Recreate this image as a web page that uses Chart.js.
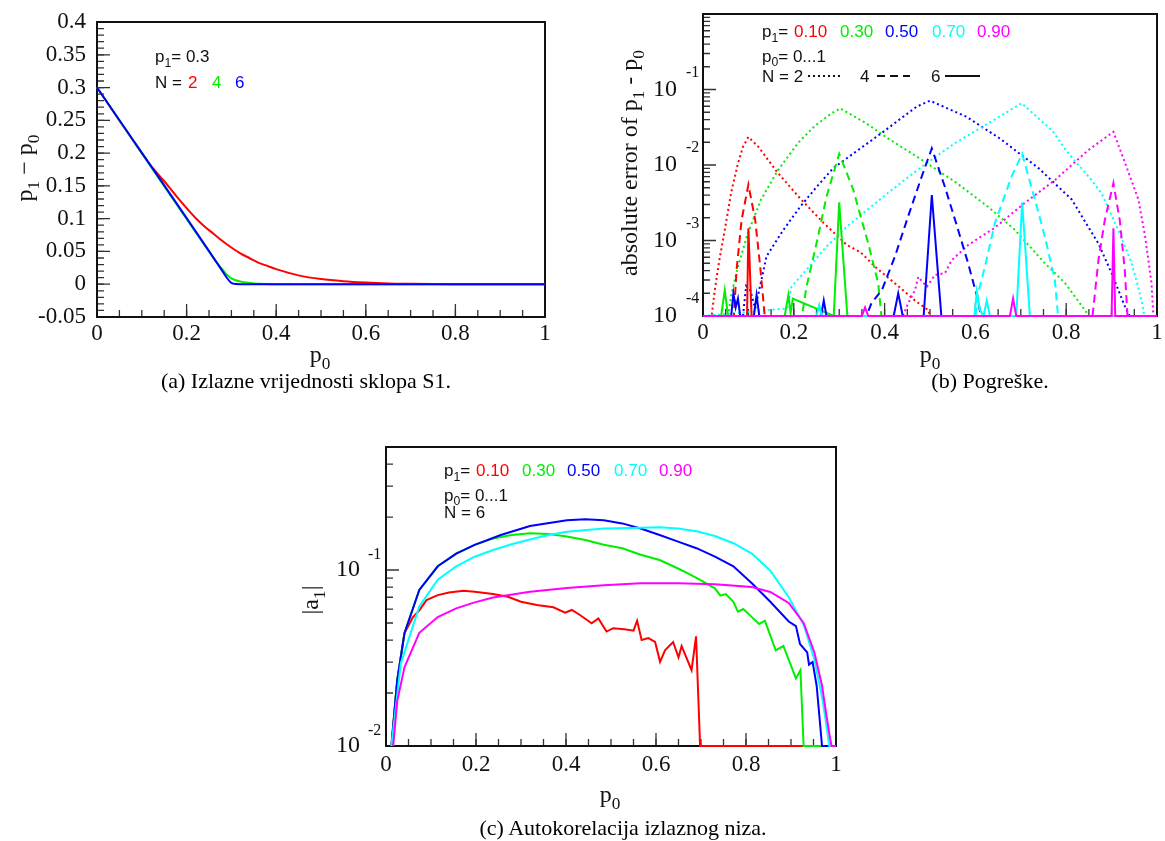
<!DOCTYPE html>
<html>
<head>
<meta charset="utf-8">
<script src="https://cdn.jsdelivr.net/npm/chart.js@4.4.1/dist/chart.umd.min.js"></script>
<style>
  html, body { margin: 0; padding: 0; background: #fff; }
  #page { position: relative; width: 1165px; height: 841px; overflow: hidden; }
  #page canvas { position: absolute; left: 0; top: 0; }
  .cap { position: absolute; font-family: "Liberation Serif", "Times New Roman", serif; font-size: 22px;
         color: #000; white-space: nowrap; transform: translate(-50%, -50%); }
</style>
</head>
<body>
<div id="page">
  <canvas id="chartA" width="1165" height="841"></canvas>
  <canvas id="chartB" width="1165" height="841"></canvas>
  <canvas id="chartC" width="1165" height="841"></canvas>
  <div class="cap" style="left:306px; top:381px">(a) Izlazne vrijednosti sklopa S1.</div>
  <div class="cap" style="left:990px; top:381px">(b) Pogreške.</div>
  <div class="cap" style="left:623px; top:828px">(c) Autokorelacija izlaznog niza.</div>
</div>
<script>
// ---- panel (a): p1 - p0 for p1 = 0.3 ----
const aX_N2 = [0, 0.1, 0.12, 0.14, 0.16, 0.18, 0.2, 0.22, 0.24, 0.26, 0.28, 0.3, 0.32, 0.34, 0.36, 0.38, 0.4, 0.45, 0.5, 0.55, 0.6, 0.65, 0.7, 0.75, 0.8, 1];
const aY_N2 = [0.3, 0.2, 0.181, 0.165, 0.149, 0.132, 0.116, 0.101, 0.088, 0.077, 0.066, 0.056, 0.047, 0.04, 0.033, 0.028, 0.023, 0.0135, 0.0078, 0.0045, 0.0025, 0.0012, 0.0006, 0.0002, 0, 0];
const aX_N4 = [0, 0.256, 0.27, 0.282, 0.29, 0.3, 0.31, 0.32, 0.334, 0.35, 0.372, 0.4, 1];
const aY_N4 = [0.3, 0.044, 0.0305, 0.021, 0.0145, 0.009, 0.006, 0.004, 0.0025, 0.0012, 0.0005, 0, 0];
const aX_N6 = [0, 0.28, 0.29, 0.3, 0.31, 0.32, 1];
const aY_N6 = [0.3, 0.02, 0.0095, 0.002, 0.0002, 0, 0];
const aXTicks = [0, 0.2, 0.4, 0.6, 0.8, 1];
const aXLabels = ['0', '0.2', '0.4', '0.6', '0.8', '1'];
const aYTicks = [-0.05, 0, 0.05, 0.1, 0.15, 0.2, 0.25, 0.3, 0.35, 0.4];
const aYLabels = ['-0.05', '0', '0.05', '0.1', '0.15', '0.2', '0.25', '0.3', '0.35', '0.4'];

// ---- panel (b): absolute error, N = 2 (dotted) ----
const bX_N2_p10 = [0, 0.019, 0.026, 0.036, 0.048, 0.062, 0.077, 0.088, 0.1, 0.122, 0.163, 0.214, 0.266, 0.317, 0.347, 0.379, 0.423, 0.467, 0.496, 0.5, 1];
const bY_N2_p10 = [1e-4, 1e-4, 2.2e-4, 5.5e-4, 1.38e-3, 4.3e-3, 0.0105, 0.0174, 0.0235, 0.0174, 8.1e-3, 3.6e-3, 1.7e-3, 8.7e-4, 7e-4, 4.5e-4, 2.7e-4, 1.6e-4, 1.2e-4, 1e-4, 1e-4];
const bX_N2_p30 = [0, 0.055, 0.063, 0.077, 0.099, 0.128, 0.165, 0.209, 0.245, 0.282, 0.302, 0.36, 0.408, 0.482, 0.555, 0.628, 0.687, 0.753, 0.797, 0.841, 0.85, 1];
const bY_N2_p30 = [1e-4, 1e-4, 2.0e-4, 4.5e-4, 1.26e-3, 3.5e-3, 8.5e-3, 0.0195, 0.0324, 0.0479, 0.0562, 0.0355, 0.0224, 0.0117, 6.0e-3, 2.8e-3, 1.38e-3, 5.0e-4, 2.75e-4, 1.2e-4, 1e-4, 1e-4];
const bX_N2_p50 = [0, 0.088, 0.095, 0.104, 0.115, 0.14, 0.177, 0.214, 0.25, 0.287, 0.324, 0.397, 0.47, 0.5, 0.58, 0.654, 0.739, 0.812, 0.871, 0.9, 0.915, 0.93, 0.94, 1];
const bY_N2_p50 = [1e-4, 1e-4, 2.5e-4, 2.2e-4, 1.26e-4, 6.2e-4, 1.38e-3, 2.8e-3, 5.1e-3, 9.1e-3, 0.0132, 0.0275, 0.0589, 0.0711, 0.0437, 0.0224, 9.1e-3, 3.5e-3, 9.1e-4, 3.7e-4, 2.2e-4, 1.3e-4, 1e-4, 1e-4];
const bX_N2_p70 = [0, 0.185, 0.195, 0.228, 0.272, 0.316, 0.408, 0.482, 0.555, 0.628, 0.702, 0.724, 0.77, 0.8, 0.856, 0.879, 0.919, 0.944, 0.958, 0.968, 0.972, 1];
const bY_N2_p70 = [1e-4, 1.26e-4, 2.45e-4, 4.1e-4, 8.3e-4, 1.51e-3, 4.3e-3, 9.5e-3, 0.0195, 0.0355, 0.066, 0.05, 0.0282, 0.0155, 6.3e-3, 4.1e-3, 1.2e-3, 5e-4, 2.5e-4, 1.4e-4, 1e-4, 1e-4];
const bX_N2_p90 = [0, 0.44, 0.452, 0.467, 0.474, 0.493, 0.511, 0.533, 0.548, 0.584, 0.643, 0.709, 0.775, 0.849, 0.904, 0.93, 0.959, 0.974, 0.988, 0.992, 1];
const bY_N2_p90 = [1e-4, 1e-4, 1.48e-4, 2.2e-4, 3.3e-4, 2.45e-4, 3.5e-4, 3.7e-4, 5.5e-4, 8.7e-4, 1.48e-3, 3.16e-3, 6.3e-3, 0.0158, 0.0275, 0.0105, 3.5e-3, 1.12e-3, 2.7e-4, 1e-4, 1e-4];
// N = 4 (dashed)
const bX_N4_p10 = [0, 0.068, 0.074, 0.085, 0.1, 0.115, 0.126, 0.136, 1];
const bY_N4_p10 = [1e-4, 1e-4, 4.1e-4, 1.86e-3, 5.5e-3, 1.86e-3, 4.5e-4, 1e-4, 1e-4];
const bX_N4_p30 = [0, 0.218, 0.228, 0.25, 0.272, 0.3, 0.331, 0.364, 0.386, 0.393, 1];
const bY_N4_p30 = [1e-4, 1e-4, 2.45e-4, 9.1e-4, 3.8e-3, 0.0141, 4.7e-3, 9.1e-4, 2.7e-4, 1e-4, 1e-4];
const bX_N4_p50 = [0, 0.36, 0.371, 0.394, 0.423, 0.452, 0.482, 0.504, 0.533, 0.562, 0.584, 0.606, 0.612, 1];
const bY_N4_p50 = [1e-4, 1e-4, 1.48e-4, 2.2e-4, 6.2e-4, 2.1e-3, 7.1e-3, 0.0166, 5.1e-3, 1.38e-3, 5e-4, 1.6e-4, 1e-4, 1e-4];
const bX_N4_p70 = [0, 0.6, 0.606, 0.621, 0.643, 0.68, 0.703, 0.731, 0.753, 0.775, 0.782, 1];
const bY_N4_p70 = [1e-4, 1e-4, 2.0e-4, 4.5e-4, 1.7e-3, 7.1e-3, 0.0141, 3.5e-3, 1.12e-3, 3.0e-4, 1e-4, 1e-4];
const bX_N4_p90 = [0, 0.858, 0.871, 0.885, 0.904, 0.918, 0.929, 0.935, 1];
const bY_N4_p90 = [1e-4, 1e-4, 5.5e-4, 1.86e-3, 5.75e-3, 1.86e-3, 4.1e-4, 1e-4, 1e-4];
// N = 6 (solid)
const bX_N6_p10 = [0, 0.097, 0.1, 0.107, 1];
const bY_N6_p10 = [1e-4, 1e-4, 1.45e-3, 1e-4, 1e-4];
const bX_N6_p30 = [0, 0.04, 0.048, 0.055, 0.18, 0.188, 0.193, 0.198, 0.288, 0.3, 0.318, 1];
const bY_N6_p30 = [1e-4, 1e-4, 2.2e-4, 1e-4, 1e-4, 1.9e-4, 1.1e-4, 1.7e-4, 1e-4, 3.2e-3, 1e-4, 1e-4];
const bX_N6_p50 = [0, 0.062, 0.067, 0.072, 0.077, 0.082, 0.112, 0.118, 0.124, 0.26, 0.266, 0.272, 0.42, 0.43, 0.44, 0.486, 0.504, 0.525, 1];
const bY_N6_p50 = [1e-4, 1e-4, 2.0e-4, 1.3e-4, 1.7e-4, 1e-4, 1e-4, 1.9e-4, 1e-4, 1e-4, 1.6e-4, 1e-4, 1e-4, 2.0e-4, 1e-4, 1e-4, 4.0e-3, 1e-4, 1e-4];
const bX_N6_p70 = [0, 0.25, 0.256, 0.262, 0.598, 0.603, 0.61, 0.618, 0.625, 0.632, 0.69, 0.703, 0.72, 1];
const bY_N6_p70 = [1e-4, 1e-4, 1.4e-4, 1e-4, 1e-4, 2.1e-4, 1.2e-4, 1.0e-4, 1.6e-4, 1e-4, 1e-4, 3.2e-3, 1e-4, 1e-4];
const bX_N6_p90 = [0, 0.35, 0.357, 0.364, 0.676, 0.683, 0.69, 0.9, 0.904, 0.908, 1];
const bY_N6_p90 = [1e-4, 1e-4, 1.3e-4, 1e-4, 1e-4, 1.7e-4, 1e-4, 1e-4, 1.45e-3, 1e-4, 1e-4];
const bYTicks = [1e-4, 1e-3, 1e-2, 1e-1];
const bYExp = ['-4', '-3', '-2', '-1'];

// ---- panel (c): |a1| for N = 6 ----
const cX_p10 = [0.012, 0.025, 0.041, 0.06, 0.074, 0.09, 0.115, 0.14, 0.172, 0.197, 0.238, 0.271, 0.3, 0.335, 0.372, 0.398, 0.413, 0.431, 0.457, 0.472, 0.49, 0.505, 0.53, 0.55, 0.558, 0.568, 0.583, 0.598, 0.609, 0.62, 0.638, 0.65, 0.657, 0.679, 0.689, 0.698, 1];
const cY_p10 = [0.01, 0.0237, 0.0437, 0.054, 0.059, 0.0675, 0.072, 0.0745, 0.0763, 0.0753, 0.073, 0.0705, 0.066, 0.0633, 0.0614, 0.0572, 0.0593, 0.0555, 0.0498, 0.0531, 0.0447, 0.0467, 0.046, 0.0452, 0.0515, 0.040, 0.041, 0.039, 0.0301, 0.035, 0.039, 0.0319, 0.037, 0.027, 0.042, 0.01, 0.01];
const cX_p30 = [0.012, 0.025, 0.041, 0.074, 0.115, 0.156, 0.197, 0.238, 0.279, 0.32, 0.361, 0.402, 0.443, 0.484, 0.525, 0.566, 0.608, 0.649, 0.673, 0.698, 0.731, 0.743, 0.755, 0.772, 0.782, 0.794, 0.813, 0.829, 0.842, 0.866, 0.883, 0.911, 0.921, 0.928, 1];
const cY_p30 = [0.01, 0.0237, 0.0437, 0.077, 0.105, 0.124, 0.139, 0.151, 0.158, 0.162, 0.16, 0.155, 0.148, 0.139, 0.133, 0.122, 0.114, 0.102, 0.095, 0.088, 0.0787, 0.0715, 0.073, 0.066, 0.058, 0.06, 0.054, 0.0493, 0.0515, 0.035, 0.037, 0.0242, 0.027, 0.01, 0.01];
const cX_p50 = [0.012, 0.025, 0.041, 0.074, 0.115, 0.156, 0.197, 0.255, 0.32, 0.402, 0.443, 0.484, 0.525, 0.566, 0.608, 0.649, 0.69, 0.731, 0.772, 0.813, 0.854, 0.895, 0.911, 0.92, 0.936, 0.94, 0.948, 0.957, 0.969, 1];
const cY_p50 = [0.01, 0.0237, 0.0437, 0.077, 0.105, 0.124, 0.139, 0.158, 0.178, 0.192, 0.194, 0.192, 0.184, 0.172, 0.158, 0.145, 0.133, 0.119, 0.105, 0.084, 0.066, 0.051, 0.048, 0.038, 0.034, 0.029, 0.030, 0.022, 0.01, 0.01];
const cX_p70 = [0.012, 0.033, 0.074, 0.115, 0.156, 0.197, 0.238, 0.279, 0.32, 0.361, 0.402, 0.484, 0.566, 0.608, 0.649, 0.69, 0.731, 0.772, 0.813, 0.854, 0.895, 0.928, 0.952, 0.969, 0.977, 0.985, 1];
const cY_p70 = [0.01, 0.0295, 0.062, 0.088, 0.105, 0.119, 0.13, 0.14, 0.149, 0.158, 0.165, 0.172, 0.174, 0.175, 0.172, 0.166, 0.156, 0.142, 0.124, 0.099, 0.07, 0.049, 0.031, 0.019, 0.014, 0.01, 0.01];
const cX_p90 = [0.016, 0.025, 0.041, 0.074, 0.115, 0.156, 0.197, 0.238, 0.32, 0.402, 0.484, 0.566, 0.649, 0.731, 0.813, 0.854, 0.895, 0.928, 0.952, 0.969, 0.977, 0.985, 0.99, 1];
const cY_p90 = [0.01, 0.018, 0.028, 0.044, 0.054, 0.0605, 0.0655, 0.0697, 0.0753, 0.079, 0.082, 0.084, 0.084, 0.083, 0.080, 0.075, 0.065, 0.050, 0.034, 0.022, 0.016, 0.0118, 0.01, 0.01];
const cYTicks = [1e-2, 1e-1];
const cYExp = ['-2', '-1'];

const p1Labels = ['0.10', '0.30', '0.50', '0.70', '0.90'];

// ---- styling ----
const W = 1165, H = 841;
const SERIF = '"Liberation Serif", "Times New Roman", serif';
const SANS = '"Liberation Sans", Arial, sans-serif';
const RED = '#ff0000', GREEN = '#00ee00', BLUE = '#0000ff', CYAN = '#00ffff', MAGENTA = '#ff00ff';
const COLS = [RED, GREEN, BLUE, CYAN, MAGENTA];
const DOT = [2, 3], DASH = [8, 5];

const pts = (xs, ys) => xs.map((x, i) => ({ x: x, y: ys[i] }));
const ds = (xs, ys, color, dash, smooth) => ({
  data: pts(xs, ys), borderColor: color, borderWidth: 2, borderDash: dash || [],
  pointRadius: 0, fill: false, tension: 0, clip: 2,
  cubicInterpolationMode: smooth ? 'monotone' : 'default'
});

// draw a run of text pieces: [text, {sub, sup, color}]
function rich(ctx, x, y, parts, size, family, align) {
  const font = s => s + 'px ' + family;
  let total = 0;
  parts.forEach(p => {
    const o = p[1] || {};
    ctx.font = font(o.sub || o.sup ? size * 0.72 : size);
    total += ctx.measureText(p[0]).width;
  });
  let cx = align === 'center' ? x - total / 2 : (align === 'right' ? x - total : x);
  ctx.textAlign = 'left';
  ctx.textBaseline = 'alphabetic';
  parts.forEach(p => {
    const o = p[1] || {};
    const s = o.sub || o.sup ? size * 0.72 : size;
    ctx.font = font(s);
    ctx.fillStyle = o.color || '#111';
    let dy = 0;
    if (o.sub) dy = size * 0.28;
    if (o.sup) dy = -size * 0.45;
    ctx.fillText(p[0], cx, y + dy);
    cx += ctx.measureText(p[0]).width;
  });
}

function tickLines(ctx, chart, axis, values, len) {
  const a = chart.chartArea, sc = chart.scales[axis];
  ctx.beginPath();
  values.forEach(v => {
    const p = sc.getPixelForValue(v);
    if (axis === 'x') { ctx.moveTo(p, a.bottom); ctx.lineTo(p, a.bottom - len); }
    else { ctx.moveTo(a.left, p); ctx.lineTo(a.left + len, p); }
  });
  ctx.stroke();
}

function linSteps(from, to, step) {
  const out = [];
  const n = Math.round((to - from) / step);
  for (let i = 0; i <= n; i++) out.push(+(from + i * step).toFixed(6));
  return out;
}
function logMinors(eFrom, eTo, max) {
  const out = [];
  for (let e = eFrom; e <= eTo; e++)
    for (let k = 2; k <= 9; k++) { const v = k * Math.pow(10, e); if (v < max) out.push(v); }
  return out;
}

function xLabels(ctx, chart, dy) {
  const a = chart.chartArea, sc = chart.scales.x;
  ctx.font = '23px ' + SERIF; ctx.fillStyle = '#111';
  ctx.textAlign = 'center'; ctx.textBaseline = 'middle';
  aXTicks.forEach((v, i) => ctx.fillText(aXLabels[i], sc.getPixelForValue(v), a.bottom + dy));
}
function logLabels(ctx, chart, ticks, exps, rightX, supGap, supDy) {
  const sc = chart.scales.y;
  ticks.forEach((v, i) => {
    const p = sc.getPixelForValue(v);
    ctx.font = '24px ' + SERIF; ctx.fillStyle = '#111';
    ctx.textAlign = 'right'; ctx.textBaseline = 'middle';
    ctx.fillText('10', rightX, p);
    ctx.font = '16px ' + SERIF; ctx.textAlign = 'left';
    ctx.fillText(exps[i], rightX + supGap, p - supDy);
  });
}
function rotated(ctx, cx, cy, parts, size) {
  ctx.save();
  ctx.translate(cx, cy); ctx.rotate(-Math.PI / 2);
  rich(ctx, 0, size * 0.33, parts, size, SERIF, 'center');
  ctx.restore();
}
function p1Legend(ctx, x0, y0) {
  rich(ctx, x0, y0 + 6, [['p'], ['1', { sub: true }], ['=']], 17, SANS, 'left');
  const offs = [32, 78, 123, 170, 215];
  p1Labels.forEach((t, i) => rich(ctx, x0 + offs[i], y0 + 6, [[t, { color: COLS[i] }]], 17, SANS, 'left'));
  rich(ctx, x0, y0 + 30.5, [['p'], ['0', { sub: true }], ['= 0...1']], 17, SANS, 'left');
}
function axisTicks(ctx, chart, yMinor, yMajor) {
  ctx.strokeStyle = '#333'; ctx.lineWidth = 1.3;
  tickLines(ctx, chart, 'x', linSteps(0, 1, 0.05), 7);
  tickLines(ctx, chart, 'x', aXTicks, 13);
  tickLines(ctx, chart, 'y', yMinor, 7);
  tickLines(ctx, chart, 'y', yMajor, 13);
}

const deco = {
  chartA(ctx, chart) {
    axisTicks(ctx, chart, linSteps(-0.05, 0.4, 0.01), aYTicks);
    xLabels(ctx, chart, 17);
    const sy = chart.scales.y;
    ctx.font = '23px ' + SERIF; ctx.fillStyle = '#111';
    ctx.textAlign = 'right'; ctx.textBaseline = 'middle';
    aYTicks.forEach((v, i) => ctx.fillText(aYLabels[i], 86, sy.getPixelForValue(v)));
    rotated(ctx, 24, 168, [['p'], ['1', { sub: true }], [' \u2212 p'], ['0', { sub: true }]], 24);
    rich(ctx, 320, 362, [['p'], ['0', { sub: true }]], 24, SERIF, 'center');
    rich(ctx, 155, 62, [['p'], ['1', { sub: true }], ['= 0.3']], 17, SANS, 'left');
    rich(ctx, 155, 88, [['N = ']], 17, SANS, 'left');
    rich(ctx, 188, 88, [['2', { color: RED }]], 17, SANS, 'left');
    rich(ctx, 212, 88, [['4', { color: GREEN }]], 17, SANS, 'left');
    rich(ctx, 235, 88, [['6', { color: BLUE }]], 17, SANS, 'left');
  },
  chartB(ctx, chart) {
    axisTicks(ctx, chart, logMinors(-4, -1, 1), bYTicks);
    xLabels(ctx, chart, 17);
    logLabels(ctx, chart, bYTicks, bYExp, 677, 9, 17);
    rotated(ctx, 629, 163, [['absolute error of p'], ['1', { sub: true }], [' - p'], ['0', { sub: true }]], 24);
    rich(ctx, 930, 362, [['p'], ['0', { sub: true }]], 24, SERIF, 'center');
    p1Legend(ctx, 762, 31);
    const y3 = 82;
    rich(ctx, 762, y3, [['N = 2']], 17, SANS, 'left');
    rich(ctx, 860, y3, [['4']], 17, SANS, 'left');
    rich(ctx, 931, y3, [['6']], 17, SANS, 'left');
    ctx.strokeStyle = '#111'; ctx.lineWidth = 2;
    [[808, 842, DOT], [877, 910, DASH], [945, 980, []]].forEach(s => {
      ctx.setLineDash(s[2]); ctx.beginPath(); ctx.moveTo(s[0], y3 - 6); ctx.lineTo(s[1], y3 - 6); ctx.stroke();
    });
    ctx.setLineDash([]);
  },
  chartC(ctx, chart) {
    axisTicks(ctx, chart, logMinors(-2, -1, 0.5), cYTicks);
    xLabels(ctx, chart, 19);
    logLabels(ctx, chart, cYTicks, cYExp, 360, 8, 15);
    rotated(ctx, 310, 600, [['|a'], ['1', { sub: true }], ['|']], 24);
    rich(ctx, 610, 802, [['p'], ['0', { sub: true }]], 24, SERIF, 'center');
    p1Legend(ctx, 444, 470);
    rich(ctx, 444, 518, [['N = 6']], 17, SANS, 'left');
  }
};

// frame, ticks and texts go under the curves, as in the original plots
const framePlugin = {
  id: 'xmframe',
  beforeDatasetsDraw(chart) {
    const ctx = chart.ctx, a = chart.chartArea;
    ctx.save();
    deco[chart.canvas.id](ctx, chart);
    ctx.setLineDash([]);
    ctx.strokeStyle = '#111'; ctx.lineWidth = 2;
    ctx.strokeRect(a.left, a.top, a.right - a.left, a.bottom - a.top);
    ctx.restore();
  }
};

function makeChart(id, box, yScale, datasets) {
  // later datasets are painted on top of earlier ones
  datasets.forEach((d, i) => { d.order = datasets.length - i; });
  return new Chart(document.getElementById(id), {
    type: 'line',
    data: { datasets: datasets },
    options: {
      responsive: false, animation: false, events: [],
      layout: { padding: { left: box[0], top: box[1], right: W - box[2], bottom: H - box[3] } },
      plugins: { legend: { display: false }, tooltip: { enabled: false } },
      scales: {
        x: { type: 'linear', min: 0, max: 1, display: false },
        y: Object.assign({ display: false }, yScale)
      }
    },
    plugins: [framePlugin]
  });
}

makeChart('chartA', [97, 22, 545, 317], { type: 'linear', min: -0.05, max: 0.4 }, [
  ds(aX_N2, aY_N2, RED, null, true),
  ds(aX_N4, aY_N4, GREEN, null, true),
  ds(aX_N6, aY_N6, BLUE, null, true)
]);

makeChart('chartB', [703, 14, 1157, 316], { type: 'logarithmic', min: 1e-4, max: 1 }, [
  ds(bX_N2_p10, bY_N2_p10, RED, DOT),
  ds(bX_N2_p30, bY_N2_p30, GREEN, DOT),
  ds(bX_N2_p50, bY_N2_p50, BLUE, DOT),
  ds(bX_N2_p70, bY_N2_p70, CYAN, DOT),
  ds(bX_N2_p90, bY_N2_p90, MAGENTA, DOT),
  ds(bX_N4_p10, bY_N4_p10, RED, DASH),
  ds(bX_N4_p30, bY_N4_p30, GREEN, DASH),
  ds(bX_N4_p50, bY_N4_p50, BLUE, DASH),
  ds(bX_N4_p70, bY_N4_p70, CYAN, DASH),
  ds(bX_N4_p90, bY_N4_p90, MAGENTA, DASH),
  ds(bX_N6_p10, bY_N6_p10, RED),
  ds(bX_N6_p30, bY_N6_p30, GREEN),
  ds(bX_N6_p50, bY_N6_p50, BLUE),
  ds(bX_N6_p70, bY_N6_p70, CYAN),
  ds(bX_N6_p90, bY_N6_p90, MAGENTA)
]);

makeChart('chartC', [386, 447, 836, 746], { type: 'logarithmic', min: 0.01, max: 0.5 }, [
  ds(cX_p10, cY_p10, RED),
  ds(cX_p30, cY_p30, GREEN),
  ds(cX_p50, cY_p50, BLUE),
  ds(cX_p70, cY_p70, CYAN),
  ds(cX_p90, cY_p90, MAGENTA)
]);
</script>
</body>
</html>
